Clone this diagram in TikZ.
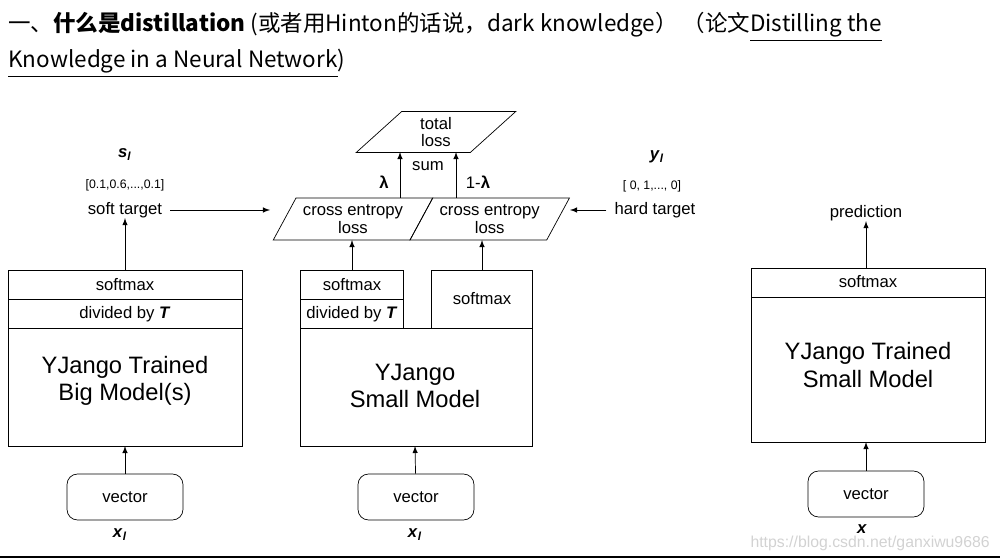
\documentclass[tikz,border=0pt]{standalone}
\usepackage{fontspec}
\setmainfont{Liberation Sans}
\newfontfamily\cjk{Noto Sans CJK SC}
\usetikzlibrary{shapes.geometric}
\begin{document}
\begin{tikzpicture}
            [x=0.02cm, y=-0.02cm, >=latex,
            small/.style={font=\fontsize{9.5}{11}\selectfont, inner sep=0pt},
            tiny/.style={font=\fontsize{7}{8}\selectfont, inner sep=0pt},
            big/.style={font=\fontsize{13.5}{15.5}\selectfont, align=center, inner sep=0pt},
            vec/.style={draw, rounded corners=6pt, minimum width=2.32cm, minimum height=0.92cm, font=\fontsize{9.5}{11}\selectfont},
            para/.style={draw, trapezium, trapezium stretches=true, trapezium left angle=55, trapezium right angle=125, align=center, font=\fontsize{9.5}{10}\selectfont, inner sep=0pt, outer sep=0pt}]

            \useasboundingbox (0,0) rectangle (1000,560);

            % heading
            \node[anchor=base west, inner sep=0pt, font=\cjk\fontsize{12.8}{15}\selectfont] (h1) at (8,32)
                {一、\textbf{什么是distillation} (或者用Hinton的话说，dark knowledge） （论文\underline{Distilling the}};
            \node[anchor=base west, inner sep=0pt, font=\cjk\fontsize{12.8}{15}\selectfont] (h2) at (8,68)
                {\underline{Knowledge in a Neural Network})};

            % left: big model
            \draw (8,270) rectangle (242,446);
            \draw (8,299) -- (242,299);
            \draw (8,328) -- (242,328);
            \node[small] (lsm) at (125,285) {softmax};
            \node[small] (ldiv) at (125,314) {divided by \textbf{\textit{T}}};
            \node[big] (lbig) at (125,381) {YJango Trained\\Big Model(s)};
            \coordinate (ltop) at (125,270);
            \coordinate (lbot) at (125,446);
            \node[vec] (lvec) at (125,497) {vector};
            \node[small] (lx) at (120,535) {\textbf{\textit{x}}\textsubscript{\textbf{\textit{l}}}};
            \node[small] (ls) at (125,155) {\textbf{\textit{s}}\textsubscript{\textbf{\textit{l}}}};
            \node[tiny] (lval) at (125,185) {[0.1,0.6,...,0.1]};
            \node[small] (soft) at (125,210) {soft target};
            \coordinate (softend) at (270,210);

            % middle: small model
            \draw (300,270) rectangle (403,328);
            \draw (300,299) -- (403,299);
            \draw (431,270) rectangle (532,328);
            \draw (300,328) rectangle (532,446);
            \node[small] (msm) at (352,285) {softmax};
            \node[small] (mdiv) at (352,314) {divided by \textbf{\textit{T}}};
            \node[small] (msm2) at (482,299) {softmax};
            \node[big] (mbig) at (415,386) {YJango\\Small Model};
            \coordinate (mtop1) at (352,270);
            \coordinate (mtop2) at (482,270);
            \coordinate (mbot) at (415,446);
            \node[vec] (mvec) at (416,497) {vector};
            \node[small] (mx) at (415,535) {\textbf{\textit{x}}\textsubscript{\textbf{\textit{l}}}};

            \node[para, minimum width=3.2cm, minimum height=0.84cm] (ce1) at (353,219) {cross entropy\\loss};
            \node[para, minimum width=3.2cm, minimum height=0.84cm, anchor=bottom left corner] (ce2) at (ce1.bottom right corner) {cross entropy\\loss};
            \node[para, minimum width=3.2cm, minimum height=0.82cm] (tot) at (436,132) {total\\loss};
            \node[small] (sum) at (428,166) {sum};
            \node[small] (lam) at (384,182) {\textbf{λ}};
            \node[small] (lam2) at (478,182) {1-\textbf{λ}};

            \node[small] (yl) at (657,157) {\textbf{\textit{y}}\textsubscript{\textbf{\textit{l}}}};
            \node[tiny] (yval) at (652,186) {[ 0, 1,..., 0]};
            \node[small] (hard) at (655,210) {hard target};
            \coordinate (hardend) at (570,210);

            % right: trained small model
            \draw (751,268) rectangle (985,442);
            \draw (751,297) -- (985,297);
            \node[small] (rsm) at (868,282) {softmax};
            \node[big] (rbig) at (868,365) {YJango Trained\\Small Model};
            \coordinate (rtop) at (866,268);
            \coordinate (rbot) at (866,442);
            \node[vec] (rvec) at (866,494) {vector};
            \node[small] (rx) at (862,529) {\textbf{\textit{x}}};
            \node[small] (pred) at (866,213) {prediction};

            \node[anchor=east, inner sep=0pt, text=gray!35, font=\fontsize{9}{10}\selectfont] (wm) at (990,543) {https://blog.csdn.net/ganxiwu9686};
            \draw[line width=1.5pt] (0,557) -- (1000,557);

            % arrows
            \draw[->] (lvec) -- (lbot);
            \draw[->] (ltop) -- (soft);
            \draw[->] (soft.east) ++(8,0) -- (softend);
            \draw[->] (mvec) -- (mbot);
            \draw[->] (mtop1) -- (mtop1 |- ce1.south);
            \draw[->] (mtop2) -- (mtop2 |- ce2.south);
            \draw[->] (400,198) -- (400,152);
            \draw[->] (456,198) -- (456,152);
            \draw[->] (hard.west) ++(-8,0) -- (hardend);
            \draw[->] (rvec) -- (rbot);
            \draw[->] (rtop) -- (pred);

        \end{tikzpicture}
\end{document}
